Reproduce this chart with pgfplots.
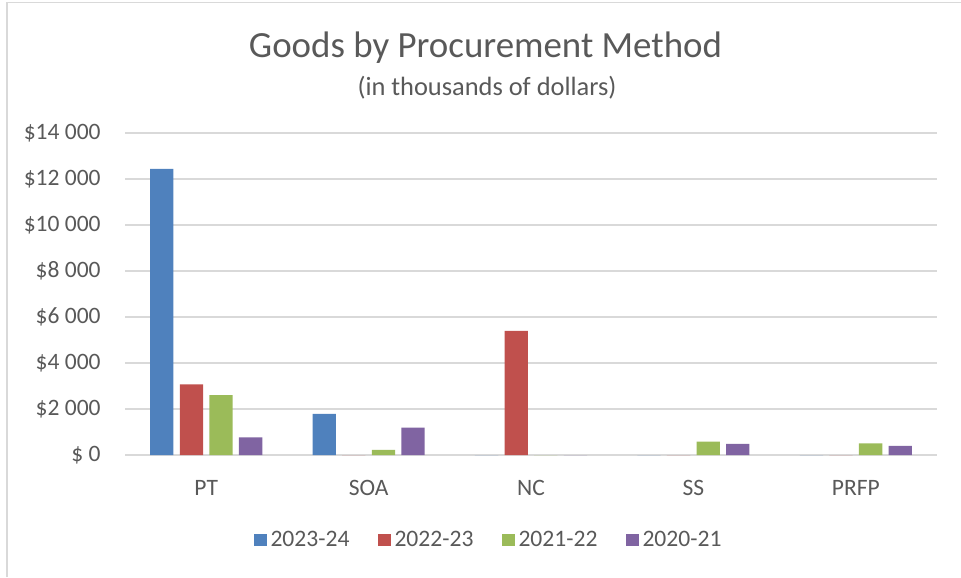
\documentclass[border=0pt]{standalone}
\usepackage{pgfplots}
\pgfplotsset{compat=1.18}
\usepackage{fontspec}
\setmainfont{Carlito}
\definecolor{txt}{HTML}{595959}
\definecolor{gridc}{HTML}{D9D9D9}
\definecolor{cA}{HTML}{4F81BD}
\definecolor{cB}{HTML}{C0504D}
\definecolor{cC}{HTML}{9BBB59}
\definecolor{cD}{HTML}{8064A2}
\begin{document}
\begin{tikzpicture}
\useasboundingbox (0,0) rectangle (480.5pt,-288.5pt);
\draw[gridc, line width=0.75pt] (3.5pt,-288.5pt) -- (3.5pt,-1.25pt) -- (480.5pt,-1.25pt);
\node[anchor=base, text=txt, font=\fontsize{18.45}{22}\selectfont, inner sep=0pt] at (242.75pt,-28.9pt) {Goods by Procurement Method};
\node[anchor=base, text=txt, font=\fontsize{13.2}{16}\selectfont, inner sep=0pt] at (243.5pt,-48pt) {(in thousands of dollars)};
\begin{axis}[
  at={(62.5pt,-227.5pt)}, anchor=south west,
  scale only axis, width=406pt, height=161pt,
  xmin=-0.5, xmax=4.5, ymin=0, ymax=14000,
  scaled y ticks=false,
  ybar=3.15pt, bar width=11.65pt,
  xtick={0,1,2,3,4}, xticklabels={PT,SOA,NC,SS,PRFP},
  ytick={0,2000,4000,6000,8000,10000,12000,14000},
  yticklabels={\$ 0,\$2 000,\$4 000,\$6 000,\$8 000,\$10 000,\$12 000,\$14 000},
  ymajorgrids, grid style={gridc, line width=0.75pt},
  axis line style={draw=none},
  major tick length=0pt,
  /pgf/number format/assume math mode=true,
  tick label style={text=txt, font=\fontsize{11.75}{14}\selectfont},
  yticklabel style={anchor=east, inner sep=0pt, xshift=-12pt},
  xticklabel style={anchor=base, inner sep=0pt, yshift=-20pt},
  legend style={at={(0.4489,-0.264)}, anchor=center, draw=none, fill=none,
    legend columns=-1, font=\fontsize{11.8}{14}\selectfont, text=txt,
    /tikz/every even column/.append style={column sep=12pt}},
  legend image code/.code={\fill[#1] (0pt,-3pt) rectangle (6.5pt,3pt);},
  clip=false,
]
\addplot[fill=cA, draw=none] coordinates {(0,12440) (1,1790) (2,0) (3,0) (4,0)};
\addplot[fill=cB, draw=none] coordinates {(0,3070) (1,0) (2,5400) (3,0) (4,0)};
\addplot[fill=cC, draw=none] coordinates {(0,2600) (1,220) (2,0) (3,580) (4,510)};
\addplot[fill=cD, draw=none] coordinates {(0,770) (1,1190) (2,0) (3,480) (4,400)};
\legend{2023-24,2022-23,2021-22,2020-21}
\end{axis}
\end{tikzpicture}
\end{document}
